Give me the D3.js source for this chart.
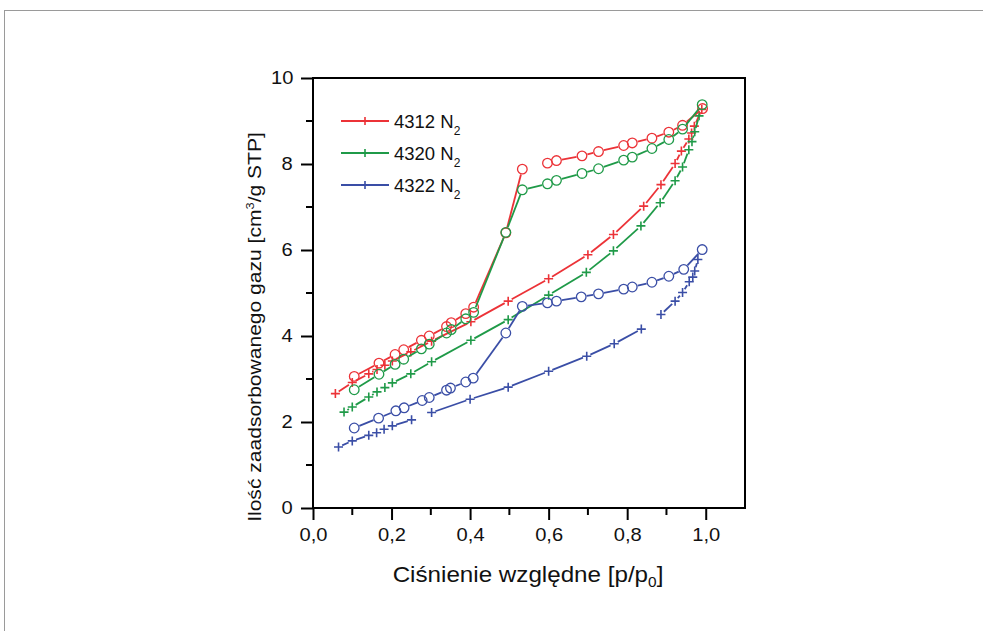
<!DOCTYPE html>
<html>
<head>
<meta charset="utf-8">
<script src="https://cdn.jsdelivr.net/npm/d3@7"></script>
<style>
  body { margin: 0; background: #fff; }
  svg { display: block; font-family: Arial, "Liberation Sans", sans-serif; }
</style>
</head>
<body>
<div id="chart"></div>
<script>
// values; null = break in the line
var red_ads = [[0.057,2.66],[0.10,2.92],[0.142,3.12],[0.163,3.22],[0.183,3.32],[0.202,3.42],[0.249,3.63],[0.302,3.88],[0.402,4.33],[0.497,4.81],[0.60,5.33],[0.70,5.89],[0.765,6.36],[0.842,7.02],[0.886,7.52],[0.922,8.01],[0.938,8.30],[0.957,8.58],[0.964,8.72],[0.971,8.88],[0.99,9.27]];
var red_des = [[0.105,3.06],[0.168,3.37],[0.209,3.57],[0.231,3.68],[0.276,3.90],[0.296,4.00],[0.34,4.22],[0.352,4.31],[0.389,4.52],[0.409,4.67],[0.491,6.40],[0.533,7.88],null,[0.597,8.02],[0.62,8.08],[0.685,8.19],[0.727,8.29],[0.791,8.43],[0.813,8.49],[0.863,8.60],[0.906,8.74],[0.941,8.90],[0.992,9.29]];
var green_ads = [[0.079,2.23],[0.10,2.35],[0.142,2.58],[0.163,2.70],[0.183,2.80],[0.202,2.91],[0.249,3.12],[0.302,3.40],[0.402,3.90],[0.497,4.38],[0.60,4.95],[0.696,5.48],[0.765,5.98],[0.835,6.56],[0.884,7.10],[0.922,7.61],[0.941,7.93],[0.957,8.33],[0.965,8.52],[0.972,8.75],[0.983,9.12]];
var green_des = [[0.105,2.75],[0.168,3.11],[0.209,3.34],[0.231,3.46],[0.276,3.70],[0.296,3.81],[0.34,4.07],[0.352,4.15],[0.389,4.40],[0.409,4.55],[0.491,6.41],[0.533,7.40],[0.597,7.54],[0.62,7.62],[0.685,7.78],[0.727,7.89],[0.791,8.09],[0.813,8.16],[0.863,8.36],[0.906,8.57],[0.941,8.81],[0.991,9.38]];
var blue_ads = [[0.065,1.42],[0.10,1.56],[0.142,1.69],[0.162,1.75],[0.181,1.83],[0.202,1.91],[0.251,2.05],null,[0.302,2.22],[0.40,2.53],[0.497,2.81],[0.60,3.18],[0.697,3.53],[0.767,3.82],[0.836,4.16],null,[0.886,4.50],[0.922,4.81],[0.941,5.01],[0.958,5.26],[0.967,5.37],[0.972,5.51],[0.98,5.78]];
var blue_des = [[0.105,1.86],[0.167,2.09],[0.211,2.26],[0.232,2.33],[0.278,2.50],[0.296,2.57],[0.34,2.74],[0.35,2.79],[0.389,2.93],[0.408,3.02],[0.491,4.07],[0.533,4.69],[0.597,4.77],[0.62,4.81],[0.683,4.91],[0.727,4.98],[0.791,5.09],[0.813,5.14],[0.863,5.25],[0.906,5.39],[0.944,5.55],[0.991,6.01]];

var legendNames = ["4312", "4320", "4322"];
var colors = ["#ec3237", "#1f9a48", "#3a4ea6"];
var xTicks = [0, 0.2, 0.4, 0.6, 0.8, 1.0];
var yTicks = [0, 2, 4, 6, 8, 10];

var width = 983, height = 631;
var svg = d3.select("#chart").append("svg")
  .attr("width", width)
  .attr("height", height);

// outer frame of the figure
svg.append("rect")
  .attr("x", 4.5).attr("y", 10.5)
  .attr("width", 1000).attr("height", 700)
  .attr("fill", "none").attr("stroke", "#9a9a9a").attr("stroke-width", 1);

var x = d3.scaleLinear().domain([0, 1.1]).range([313, 745]);
var y = d3.scaleLinear().domain([0, 10]).range([508, 78]);

// axes
var xAxis = svg.append("g")
  .attr("transform", "translate(0,508)")
  .call(d3.axisBottom(x).tickValues(xTicks).tickSize(12).tickSizeOuter(0).tickPadding(9)
    .tickFormat(function(d) { return d3.format(".1f")(d).replace(".", ","); }));
var yAxis = svg.append("g")
  .attr("transform", "translate(313,0)")
  .call(d3.axisLeft(y).tickValues(yTicks).tickSize(12).tickSizeOuter(0).tickPadding(9));

// minor ticks
svg.append("g").selectAll("line")
  .data([0.1, 0.3, 0.5, 0.7, 0.9])
  .enter().append("line")
    .attr("x1", function(d) { return x(d); }).attr("x2", function(d) { return x(d); })
    .attr("y1", 508).attr("y2", 515)
    .attr("stroke", "#000").attr("stroke-width", 2);
svg.append("g").selectAll("line")
  .data([1, 3, 5, 7, 9])
  .enter().append("line")
    .attr("y1", function(d) { return y(d); }).attr("y2", function(d) { return y(d); })
    .attr("x1", 313).attr("x2", 306)
    .attr("stroke", "#000").attr("stroke-width", 2);

[xAxis, yAxis].forEach(function(a) {
  a.select(".domain").remove();
  a.selectAll(".tick line").attr("stroke", "#000").attr("stroke-width", 2);
  a.selectAll(".tick text")
    .style("font-size", "17.5px").attr("fill", "#111")
    .style("font-family", "Arial, 'Liberation Sans', sans-serif")
    .style("transform-box", "fill-box")
    .style("transform-origin", "center")
    .style("transform", "scaleX(1.15)");
});

// box
svg.append("rect")
  .attr("x", 313).attr("y", 78)
  .attr("width", 745 - 313).attr("height", 508 - 78)
  .attr("fill", "none").attr("stroke", "#000").attr("stroke-width", 2);

// axis titles
var xt = svg.append("text")
  .attr("transform", "translate(528,582) scale(1.1,1)")
  .attr("text-anchor", "middle")
  .style("font-size", "22px").attr("fill", "#111");
xt.append("tspan").text("Ciśnienie względne [p/p");
xt.append("tspan").style("font-size", "14px").attr("dy", 5).text("0");
xt.append("tspan").attr("dy", -5).text("]");

var yt = svg.append("text")
  .attr("transform", "translate(261,327) rotate(-90) scale(1.17,1)")
  .attr("text-anchor", "middle")
  .style("font-size", "18px").attr("fill", "#111");
yt.append("tspan").text("Ilość zaadsorbowanego gazu [cm");
yt.append("tspan").style("font-size", "11px").attr("dy", -7).text("3");
yt.append("tspan").attr("dy", 7).text("/g STP]");

// series
var series = [
  {pts: red_ads, c: colors[0], m: "plus"},
  {pts: green_ads, c: colors[1], m: "plus"},
  {pts: blue_ads, c: colors[2], m: "plus"},
  {pts: red_des, c: colors[0], m: "circle"},
  {pts: green_des, c: colors[1], m: "circle"},
  {pts: blue_des, c: colors[2], m: "circle"}
];

var plot = svg.append("g");

series.forEach(function(s) {
  var gap = s.m === "circle" ? 5.5 : 4;
  var segs = [];
  for (var i = 1; i < s.pts.length; i++) {
    var a = s.pts[i - 1], b = s.pts[i];
    if (!a || !b) continue;
    var x1 = x(a[0]), y1 = y(a[1]), x2 = x(b[0]), y2 = y(b[1]);
    var len = Math.hypot(x2 - x1, y2 - y1);
    if (len <= 2 * gap + 1) continue;
    var ux = (x2 - x1) / len, uy = (y2 - y1) / len;
    segs.push([x1 + ux * gap, y1 + uy * gap, x2 - ux * gap, y2 - uy * gap]);
  }
  plot.append("g").selectAll("line")
    .data(segs)
    .enter().append("line")
      .attr("x1", function(d) { return d[0]; }).attr("y1", function(d) { return d[1]; })
      .attr("x2", function(d) { return d[2]; }).attr("y2", function(d) { return d[3]; })
      .attr("stroke", s.c).attr("stroke-width", 1.8);

  var pts = s.pts.filter(function(d) { return d; });
  if (s.m === "circle") {
    plot.append("g").selectAll("circle")
      .data(pts)
      .enter().append("circle")
        .attr("cx", function(d) { return x(d[0]); })
        .attr("cy", function(d) { return y(d[1]); })
        .attr("r", 4.8)
        .attr("fill", "none").attr("stroke", s.c).attr("stroke-width", 1.3);
  } else {
    plot.append("g").selectAll("path")
      .data(pts)
      .enter().append("path")
        .attr("d", function(d) {
          var px = x(d[0]), py = y(d[1]);
          return "M" + (px - 4.5) + "," + py + "H" + (px + 4.5) + "M" + px + "," + (py - 4.5) + "V" + (py + 4.5);
        })
        .attr("stroke", s.c).attr("stroke-width", 1.6).attr("fill", "none");
  }
});

// legend
var legend = svg.append("g");
legendNames.forEach(function(name, i) {
  var ly = 121 + i * 32;
  var g = legend.append("g");
  g.append("line").attr("x1", 341).attr("x2", 389).attr("y1", ly).attr("y2", ly)
    .attr("stroke", colors[i]).attr("stroke-width", 1.8);
  g.append("path")
    .attr("d", "M" + 361 + "," + ly + "H" + 369 + "M365," + (ly - 4) + "V" + (ly + 4))
    .attr("stroke", colors[i]).attr("stroke-width", 1.6);
  var t = g.append("text").attr("x", 394).attr("y", ly + 7)
    .style("font-size", "18.5px").attr("fill", "#111");
  t.append("tspan").text(name + " N");
  t.append("tspan").style("font-size", "12px").attr("dy", 7).text("2");
});
</script>
</body>
</html>
